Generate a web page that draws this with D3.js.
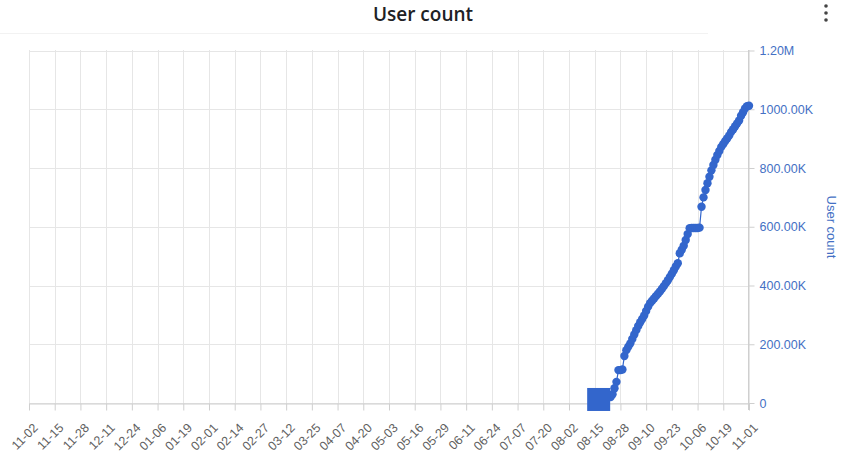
<!DOCTYPE html>
<html><head><meta charset="utf-8">
<script src="https://cdn.jsdelivr.net/npm/d3@7"></script>
<style>
html,body{margin:0;padding:0;background:#fff;}
svg{display:block;font-family:"Liberation Sans",Arial,sans-serif;}
</style></head>
<body><svg id="c" width="853" height="453"></svg>
<script>
const title = "User count";
const yAxisTitle = "User count";
const tickDates = ["2022-11-02","2022-11-15","2022-11-28","2022-12-11","2022-12-24","2023-01-06","2023-01-19","2023-02-01","2023-02-14","2023-02-27","2023-03-12","2023-03-25","2023-04-07","2023-04-20","2023-05-03","2023-05-16","2023-05-29","2023-06-11","2023-06-24","2023-07-07","2023-07-20","2023-08-02","2023-08-15","2023-08-28","2023-09-10","2023-09-23","2023-10-06","2023-10-19","2023-11-01"];
const yTicks = [0,200000,400000,600000,800000,1000000,1200000];
const yTickLabels = ["0","200.00K","400.00K","600.00K","800.00K","1000.00K","1.20M"];
const squareDate = "2023-08-17";
const squareValue = 12000;
const dates = ["2023-08-23","2023-08-24","2023-08-25","2023-08-26","2023-08-27","2023-08-28","2023-08-29","2023-08-30","2023-08-31",
"2023-09-01","2023-09-02","2023-09-03","2023-09-04","2023-09-05","2023-09-06","2023-09-07","2023-09-08","2023-09-09","2023-09-10",
"2023-09-11","2023-09-12","2023-09-13","2023-09-14","2023-09-15","2023-09-16","2023-09-17","2023-09-18","2023-09-19","2023-09-20",
"2023-09-21","2023-09-22","2023-09-23","2023-09-24","2023-09-25","2023-09-26","2023-09-27","2023-09-28","2023-09-29","2023-09-30",
"2023-10-01","2023-10-02","2023-10-03","2023-10-04","2023-10-05","2023-10-06","2023-10-07","2023-10-08","2023-10-09","2023-10-10",
"2023-10-11","2023-10-12","2023-10-13","2023-10-14","2023-10-15","2023-10-16","2023-10-17","2023-10-18","2023-10-19","2023-10-20",
"2023-10-21","2023-10-22","2023-10-23","2023-10-24","2023-10-25","2023-10-26","2023-10-27","2023-10-28","2023-10-29","2023-10-30",
"2023-10-31","2023-11-01"];
const userCounts = [20000,30000,50000,72000,112000,112000,114000,160000,180000,
192000,203000,218000,233000,248000,262000,275000,286000,298000,313000,
328000,340000,348000,356000,364000,372000,380000,389000,398000,408000,
418000,429000,440000,452000,465000,476000,510000,522000,535000,555000,
575000,595000,596000,596000,596000,596000,597000,668000,700000,725000,
748000,770000,792000,810000,828000,844000,858000,872000,882000,892000,
901000,911000,923000,932000,942000,952000,962000,978000,990000,1003000,
1010000,1012000];

const parse = d3.utcParse("%Y-%m-%d");
const svg = d3.select("#c");
const blue = "#3366cc";
const labelBlue = "#4470c4";

const x = d3.scaleUtc().domain([parse(tickDates[0]), parse(tickDates[tickDates.length-1])]).range([29, 749]);
const y = d3.scaleLinear().domain([0, 1200000]).range([403, 50.5]);

// title
svg.append("text").attr("x", 423).attr("y", 21).attr("text-anchor","middle")
  .attr("font-family", "'Open Sans', sans-serif")
  .attr("font-size", 19).attr("font-weight", 600).attr("fill", "#202124").text(title);
// kebab menu
[6,13,20].forEach(cy => svg.append("circle").attr("cx", 826).attr("cy", cy).attr("r", 1.8).attr("fill", "#444"));
// faint header line
svg.append("line").attr("x1", 0).attr("x2", 708).attr("y1", 33.5).attr("y2", 33.5).attr("stroke", "#f2f2f2");

// grid
const g = svg.append("g");
g.selectAll(".vg").data(tickDates).join("line")
  .attr("x1", d => Math.round(x(parse(d))) + 0.5).attr("x2", d => Math.round(x(parse(d))) + 0.5)
  .attr("y1", 50).attr("y2", 403).attr("stroke", "#e6e6e6");
g.selectAll(".hg").data(yTicks).join("line")
  .attr("x1", 29).attr("x2", 749).attr("y1", d => Math.round(y(d)) + 0.5).attr("y2", d => Math.round(y(d)) + 0.5)
  .attr("stroke", "#e6e6e6");

// x axis
const xa = svg.append("g").attr("transform", "translate(0,403.5)")
  .call(d3.axisBottom(x).tickValues(tickDates.map(parse)).tickFormat(d3.utcFormat("%m-%d")).tickSize(7).tickSizeOuter(0));
xa.select(".domain").attr("stroke", "#cfcfcf");
xa.selectAll(".tick line").attr("stroke", "#cfcfcf");
xa.selectAll(".tick text").attr("fill", "#5f5f5f").attr("font-size", 12.5).attr("font-family", "'Liberation Sans', Arial, sans-serif")
  .attr("text-anchor", "end").attr("x", 0).attr("y", 0).attr("dy", "0.35em")
  .attr("transform", "translate(6,22) rotate(-45)");

// right y axis
const ya = svg.append("g").attr("transform", "translate(748.5,0)")
  .call(d3.axisRight(y).tickValues(yTicks).tickFormat((d,i) => yTickLabels[i]).tickSize(6).tickPadding(5).tickSizeOuter(0));
ya.select(".domain").attr("stroke", "#cfcfcf").attr("d", "M0,50V410");
ya.selectAll(".tick line").attr("stroke", "#cfcfcf");
ya.selectAll(".tick text").attr("fill", labelBlue).attr("font-size", 12.5).attr("font-family", "'Liberation Sans', Arial, sans-serif");

svg.append("text").attr("transform", "translate(827,227) rotate(90)").attr("text-anchor","middle")
  .attr("font-size", 13).attr("fill", labelBlue).text(yAxisTitle);

// data
const pts = [{d: parse(squareDate), v: squareValue}].concat(dates.map((d,i) => ({d: parse(d), v: userCounts[i]})));
svg.append("path").datum(pts).attr("fill","none").attr("stroke", blue).attr("stroke-width", 1.2)
  .attr("d", d3.line().x(p => x(p.d)).y(p => y(p.v)));
svg.selectAll(".pt").data(pts.slice(1)).join("circle")
  .attr("cx", p => x(p.d)).attr("cy", p => y(p.v)).attr("r", 4.2).attr("fill", blue);
svg.append("rect").attr("x", x(parse(squareDate)) - 11.5).attr("y", y(squareValue) - 11.5)
  .attr("width", 23).attr("height", 23).attr("fill", blue);
</script></body></html>
